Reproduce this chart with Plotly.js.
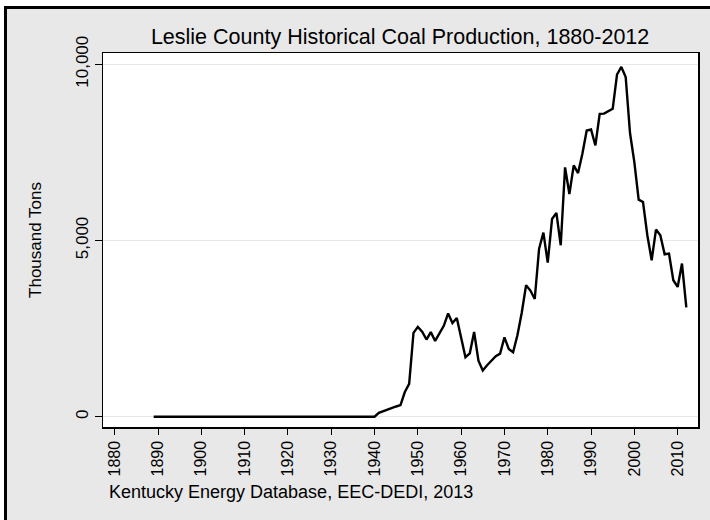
<!DOCTYPE html>
<html>
<head>
<meta charset="utf-8">
<script src="https://cdn.plot.ly/plotly-3.0.1.min.js"></script>
<style>
  html, body { margin: 0; padding: 0; background: #ffffff; width: 710px; height: 520px; overflow: hidden; }
  #frame { position: absolute; left: 4px; top: 6px; width: 706px; height: 514px;
           border-left: 3px solid #000; border-top: 3px solid #000; background: #e8e8e8; box-sizing: border-box; }
  #chart { position: absolute; left: 0; top: 0; width: 710px; height: 520px; }
</style>
</head>
<body>
<div id="frame"></div>
<div id="chart"></div>
<script>
const years = [
  1889, 1890, 1891, 1892, 1893, 1894, 1895, 1896, 1897, 1898, 1899,
  1900, 1901, 1902, 1903, 1904, 1905, 1906, 1907, 1908, 1909,
  1910, 1911, 1912, 1913, 1914, 1915, 1916, 1917, 1918, 1919,
  1920, 1921, 1922, 1923, 1924, 1925, 1926, 1927, 1928, 1929,
  1930, 1931, 1932, 1933, 1934, 1935, 1936, 1937, 1938, 1939,
  1940, 1941, 1942, 1943, 1944, 1945, 1946, 1947, 1948, 1949,
  1950, 1951, 1952, 1953, 1954, 1955, 1956, 1957, 1958, 1959,
  1960, 1961, 1962, 1963, 1964, 1965, 1966, 1967, 1968, 1969,
  1970, 1971, 1972, 1973, 1974, 1975, 1976, 1977, 1978, 1979,
  1980, 1981, 1982, 1983, 1984, 1985, 1986, 1987, 1988, 1989,
  1990, 1991, 1992, 1993, 1994, 1995, 1996, 1997, 1998, 1999,
  2000, 2001, 2002, 2003, 2004, 2005, 2006, 2007, 2008, 2009,
  2010, 2011, 2012
];
const thousandTons = [
  0, 0, 0, 0, 0, 0, 0, 0, 0, 0, 0,
  0, 0, 0, 0, 0, 0, 0, 0, 0, 0,
  0, 0, 0, 0, 0, 0, 0, 0, 0, 0,
  0, 0, 0, 0, 0, 0, 0, 0, 0, 0,
  0, 0, 0, 0, 0, 0, 0, 0, 0, 0,
  0, 110, 160, 210, 240, 290, 330, 700, 930, 2380,
  2550, 2410, 2190, 2400, 2150, 2350, 2580, 2930, 2660, 2800,
  2290, 1690, 1800, 2405, 1590, 1310, 1460, 1600, 1720, 1790,
  2250, 1920, 1830, 2310, 2950, 3730, 3580, 3340, 4760, 5225,
  4370, 5610, 5785, 4864, 7075, 6320, 7131, 6913, 7462, 8122,
  8150, 7697, 8595, 8600, 8680, 8737, 9709, 9925, 9640, 8050,
  7224, 6159, 6091, 5148, 4439, 5309, 5148, 4609, 4629, 3873,
  3683, 4346, 3099
];
const xTicks = [1880, 1890, 1900, 1910, 1920, 1930, 1940, 1950, 1960, 1970, 1980, 1990, 2000, 2010];
const yTicks = [0, 5000, 10000];
const yTickLabels = ["0", "5,000", "10,000"];

const FONT = "Liberation Sans, Arial, sans-serif";

const trace = {
  x: years, y: thousandTons, type: "scatter", mode: "lines",
  line: { color: "#000000", width: 2.4 }, hoverinfo: "x+y"
};

const layout = {
  width: 710, height: 520,
  margin: { l: 103, r: 12, t: 53, b: 93 },
  paper_bgcolor: "rgba(0,0,0,0)",
  plot_bgcolor: "#ffffff",
  showlegend: false,
  font: { family: FONT, color: "#000000" },
  title: {
    text: "Leslie County Historical Coal Production, 1880-2012",
    font: { family: FONT, size: 21.5, color: "#000000" },
    x: 0.5635, xanchor: "center", xref: "container",
    y: 0.929, yanchor: "middle", yref: "container"
  },
  xaxis: {
    range: [1877.3, 2014.7],
    tickmode: "array", tickvals: xTicks, ticktext: xTicks.map(String),
    tickangle: -90, ticks: "outside", ticklen: 6, tickwidth: 1, tickcolor: "#000",
    tickfont: { family: FONT, size: 16, color: "#000" },
    showgrid: false, zeroline: false,
    showline: true, linecolor: "#000", linewidth: 1.5, mirror: true
  },
  yaxis: {
    range: [-292, 10320],
    tickmode: "array", tickvals: yTicks, ticktext: yTickLabels,
    tickangle: -90, ticks: "outside", ticklen: 7, tickwidth: 1, tickcolor: "#000",
    tickfont: { family: FONT, size: 17, color: "#000" },
    showgrid: true, gridcolor: "#e6e6e6", gridwidth: 1, zeroline: false,
    showline: true, linecolor: "#000", linewidth: 1.5, mirror: true,
    title: { text: "Thousand Tons", font: { family: FONT, size: 17, color: "#000" }, standoff: 27 }
  },
  annotations: [{
    text: "Kentucky Energy Database, EEC-DEDI, 2013",
    xref: "paper", yref: "paper", x: 0.0067, y: -0.174,
    xanchor: "left", yanchor: "middle", showarrow: false,
    font: { family: FONT, size: 18, color: "#000" }
  }]
};

Plotly.newPlot("chart", [trace], layout, { displayModeBar: false, staticPlot: true });
</script>
</body>
</html>
